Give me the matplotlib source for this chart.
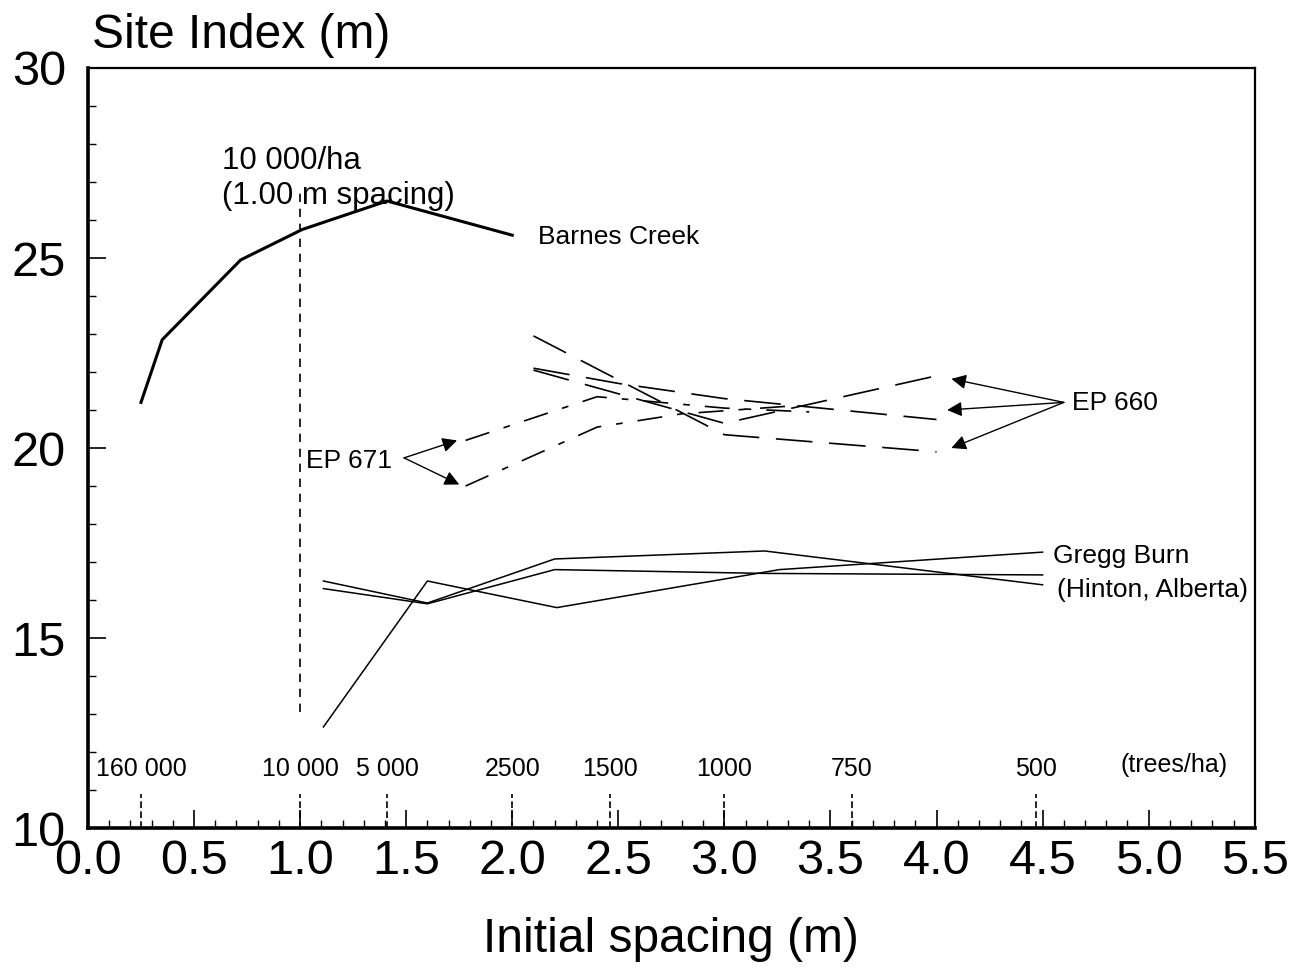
import numpy as np
import matplotlib
matplotlib.use("Agg")
import matplotlib.pyplot as plt

plt.rcParams["font.family"] = ["Liberation Sans", "DejaVu Sans"]

# ----------------------------
# Data
# ----------------------------
barnes_x = [0.25, 0.35, 0.72, 1.01, 1.41, 2.00]
barnes_y = [21.2, 22.85, 24.95, 25.75, 26.5, 25.6]

# EP 660 (long dashes)
ep660_x = [[2.1, 3.0, 4.0],
           [2.1, 3.0, 4.0],
           [2.1, 2.5, 3.0, 4.0]]
ep660_y = [[22.95, 20.35, 19.9],
           [22.05, 20.65, 21.9],
           [22.1, 21.7, 21.3, 20.75]]

# EP 671 (dash-dot)
ep671_x = [[1.78, 2.4, 3.0, 3.4],
           [1.78, 2.4, 2.8, 3.3]]
ep671_y = [[20.2, 21.35, 21.05, 20.95],
           [19.0, 20.55, 20.9, 21.1]]

# Gregg Burn (Hinton, Alberta)
gregg_x = [[1.11, 1.60, 2.20, 3.19, 4.50],
           [1.11, 1.60, 2.20, 3.19, 4.50],
           [1.11, 1.60, 2.21, 3.26, 4.50]]
gregg_y = [[16.5, 15.92, 17.08, 17.29, 16.4],
           [16.3, 15.9, 16.8, 16.7, 16.66],
           [12.66, 16.5, 15.8, 16.8, 17.26]]

# density scale (trees/ha) along the x axis
density_pos = [0.25, 1.0, 1.41, 2.0, 2.46, 3.0, 3.6, 4.47]
density_lab = ["160 000", "10 000", "5 000", "2500", "1500", "1000", "750", "500"]

x_major = np.arange(0, 5.51, 0.5)
y_major = [10, 15, 20, 25, 30]


fig = plt.figure(figsize=(13.07, 9.77), dpi=100)
ax = fig.add_axes([0.0673, 0.1525, 0.8927, 0.7779])

ax.plot(barnes_x, barnes_y, color="black", lw=2.2, solid_joinstyle="miter")

for xs, ys in zip(ep660_x, ep660_y):
    ax.plot(xs, ys, color="black", lw=1.2, dashes=(22, 10))

for xs, ys in zip(ep671_x, ep671_y):
    ax.plot(xs, ys, color="black", lw=1.2, dashes=(15, 9, 4, 9))

for xs, ys in zip(gregg_x, gregg_y):
    ax.plot(xs, ys, color="black", lw=1.1)

# 10 000/ha reference line
ax.plot([1.0, 1.0], [13.05, 26.8], color="black", lw=1.2, dashes=(5, 4))
ax.text(0.63, 27.95, "10 000/ha\n(1.00 m spacing)", fontsize=22.5,
        ha="left", va="top", linespacing=1.2)

ax.text(2.12, 25.55, "Barnes Creek", fontsize=19, va="center")
ax.text(4.55, 17.16, "Gregg Burn", fontsize=19, va="center")
ax.text(4.57, 16.26, "(Hinton, Alberta)", fontsize=19, va="center")

# EP labels with arrows
ax.text(1.03, 19.66, "EP 671", fontsize=19, va="center")
for tip in [(1.74, 20.2), (1.75, 19.04)]:
    ax.annotate("", xy=tip, xytext=(1.49, 19.74),
                arrowprops=dict(arrowstyle="-|>", color="black", lw=1.0,
                                mutation_scale=22, shrinkA=0, shrinkB=0))

ax.text(4.64, 21.18, "EP 660", fontsize=19, va="center")
for tip in [(4.07, 21.82), (4.05, 21.0), (4.07, 20.0)]:
    ax.annotate("", xy=tip, xytext=(4.6, 21.2),
                arrowprops=dict(arrowstyle="-|>", color="black", lw=1.0,
                                mutation_scale=22, shrinkA=0, shrinkB=0))

# density ticks and labels
for xp, lab in zip(density_pos, density_lab):
    ax.plot([xp, xp], [10, 10.9], color="black", lw=1.2, dashes=(4, 2))
    ax.text(xp, 11.55, lab, fontsize=18, ha="center", va="center")
ax.text(5.12, 11.65, "(trees/ha)", fontsize=18, ha="center", va="center")

# axes
ax.set_xlim(0, 5.5)
ax.set_ylim(10, 30)
ax.set_xticks(x_major)
ax.set_xticklabels([f"{v:.1f}" for v in x_major])
ax.set_xticks(np.arange(0, 5.51, 0.1), minor=True)
ax.set_yticks(y_major)
ax.set_yticks(np.arange(10, 31, 1), minor=True)

ax.tick_params(axis="both", which="major", direction="in", length=13,
               width=1.2, labelsize=35)
ax.tick_params(axis="both", which="minor", direction="in", length=6, width=1.0)
ax.tick_params(axis="x", which="major", pad=8)
ax.tick_params(axis="y", which="major", pad=16)

ax.spines["left"].set_linewidth(2.6)
ax.spines["bottom"].set_linewidth(2.6)
ax.spines["top"].set_linewidth(1.6)
ax.spines["right"].set_linewidth(1.6)

fig.text(92 / 1307, 1 - 36 / 977, "Site Index (m)", fontsize=34.5,
         ha="left", va="center")
fig.text(671 / 1307, 1 - 940 / 977, "Initial spacing (m)", fontsize=34.5,
         ha="center", va="center")

plt.savefig("out.png", dpi=100)
plt.close(fig)
